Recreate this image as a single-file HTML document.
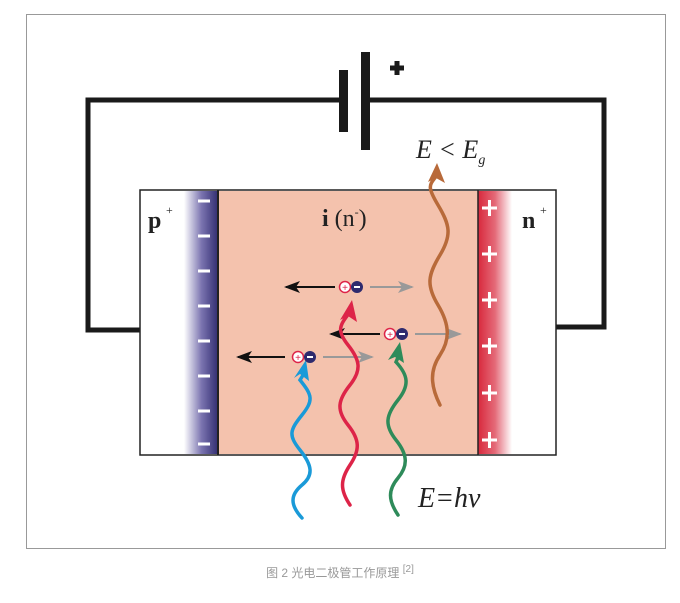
<!DOCTYPE html>
<html><head><meta charset="utf-8"><style>
body{margin:0;background:#fff;width:680px;height:598px;overflow:hidden;font-family:"Liberation Serif",serif}
</style></head><body>
<svg width="680" height="598" xmlns="http://www.w3.org/2000/svg">
<defs>
<linearGradient id="bl" x1="0" x2="1"><stop offset="0" stop-color="#fff"/><stop offset="0.5" stop-color="#7b74b0"/><stop offset="1" stop-color="#2e2a6e"/></linearGradient>
<linearGradient id="rd" x1="0" x2="1"><stop offset="0" stop-color="#d8283c"/><stop offset="0.5" stop-color="#e46a78"/><stop offset="1" stop-color="#fff"/></linearGradient>
<marker id="ak" markerWidth="8" markerHeight="6" refX="7" refY="3" orient="auto"><path d="M0,0 L8,3 L0,6 L2,3z" fill="#111"/></marker>
<marker id="ag" markerWidth="8" markerHeight="6" refX="7" refY="3" orient="auto"><path d="M0,0 L8,3 L0,6 L2,3z" fill="#999"/></marker>
</defs>
<rect x="26.5" y="14.5" width="639" height="534" fill="#fff" stroke="#999"/>
<g stroke="#1a1a1a" stroke-width="5" fill="none">
<path d="M340,100 H88 V330 H140"/>
<path d="M370,100 H604 V327 H556"/>
</g>
<rect x="339" y="70" width="9" height="62" fill="#1a1a1a"/>
<rect x="361" y="52" width="9" height="98" fill="#1a1a1a"/>
<path d="M390,68 h14 M397,61 v14" stroke="#1a1a1a" stroke-width="5"/>
<rect x="140" y="190" width="416" height="265" fill="#fff" stroke="#222" stroke-width="1.5"/>
<rect x="184" y="191" width="35" height="263" fill="url(#bl)"/>
<rect x="219" y="191" width="259" height="263" fill="#f4c2ad"/>
<rect x="478" y="191" width="34" height="263" fill="url(#rd)"/>
<line x1="218" y1="190" x2="218" y2="455" stroke="#222" stroke-width="2"/>
<line x1="478" y1="190" x2="478" y2="455" stroke="#222" stroke-width="1.5"/>
<g stroke="#fff" stroke-width="3">
<path d="M198,201h12M198,236h12M198,271h12M198,306h12M198,341h12M198,376h12M198,411h12M198,444h12"/>
<path d="M482,208h15M489.5,200v16M482,254h15M489.5,246v16M482,300h15M489.5,292v16M482,346h15M489.5,338v16M482,393h15M489.5,385v16M482,440h15M489.5,432v16"/>
</g>
<text x="148" y="228" font-size="24" font-weight="bold" fill="#222">p</text>
<text x="166" y="214" font-size="12" fill="#222">+</text>
<text x="522" y="228" font-size="24" font-weight="bold" fill="#222">n</text>
<text x="540" y="214" font-size="12" fill="#222">+</text>
<text x="322" y="226" font-size="24" fill="#222"><tspan font-weight="bold">i</tspan> (n<tspan font-size="12" dy="-10">-</tspan><tspan dy="10">)</tspan></text>
<text x="416" y="158" font-size="26" font-style="italic" fill="#222">E &lt; E<tspan font-size="14" dy="6">g</tspan></text>
<text x="418" y="507" font-size="28" font-style="italic" fill="#222">E=hν</text>
<g stroke-width="2" fill="none">
<line x1="335" y1="287" x2="286" y2="287" stroke="#111" marker-end="url(#ak)"/>
<line x1="370" y1="287" x2="412" y2="287" stroke="#999" marker-end="url(#ag)"/>
<line x1="380" y1="334" x2="331" y2="334" stroke="#111" marker-end="url(#ak)"/>
<line x1="415" y1="334" x2="460" y2="334" stroke="#999" marker-end="url(#ag)"/>
<line x1="285" y1="357" x2="238" y2="357" stroke="#111" marker-end="url(#ak)"/>
<line x1="323" y1="357" x2="372" y2="357" stroke="#999" marker-end="url(#ag)"/>
</g>
<g stroke-width="3.5" fill="none" stroke-linecap="round">
<path d="M302,518 C290,505 290,495 302,485 S312,465 300,450 S290,430 302,415 S312,395 300,380 L305,372" stroke="#1a9ad8"/>
<path d="M350,505 C340,490 340,480 350,465 S360,440 348,425 S338,400 350,385 S360,360 348,345 S340,325 350,312" stroke="#dd2448"/>
<path d="M398,515 C388,500 388,490 398,478 S408,455 396,440 S386,415 398,400 S408,375 396,362 L399,355" stroke="#2e8b5a"/>
<path d="M440,405 C430,385 430,370 440,355 S450,325 438,305 S428,275 440,255 S450,225 438,205 S430,185 437,175" stroke="#b86a3a"/>
</g>
<path d="M306,360 L294,378 L300,374 L309,381z" fill="#1a9ad8"/>
<path d="M352,300 L340,320 L348,316 L357,322z" fill="#dd2448"/>
<path d="M400,342 L388,360 L395,357 L404,363z" fill="#2e8b5a"/>
<path d="M437,163 L428,182 L436,178 L445,183z" fill="#b86a3a"/>
<g>
<circle cx="345" cy="287" r="5.5" fill="#fff" stroke="#dd2448" stroke-width="1.5"/><text x="345" y="291" font-size="10" text-anchor="middle" fill="#dd2448" font-family="Liberation Sans">+</text>
<circle cx="357" cy="287" r="6" fill="#2e2a6e"/><rect x="354" y="286" width="6" height="2" fill="#fff"/>
<circle cx="390" cy="334" r="5.5" fill="#fff" stroke="#dd2448" stroke-width="1.5"/><text x="390" y="338" font-size="10" text-anchor="middle" fill="#dd2448" font-family="Liberation Sans">+</text>
<circle cx="402" cy="334" r="6" fill="#2e2a6e"/><rect x="399" y="333" width="6" height="2" fill="#fff"/>
<circle cx="298" cy="357" r="5.5" fill="#fff" stroke="#dd2448" stroke-width="1.5"/><text x="298" y="361" font-size="10" text-anchor="middle" fill="#dd2448" font-family="Liberation Sans">+</text>
<circle cx="310" cy="357" r="6" fill="#2e2a6e"/><rect x="307" y="356" width="6" height="2" fill="#fff"/>
</g>
<text x="340" y="577" font-size="12" text-anchor="middle" fill="#999" font-family="Liberation Sans, Noto Sans CJK SC, sans-serif">图 2 光电二极管工作原理 <tspan font-size="10" dy="-5">[2]</tspan></text>
</svg>
</body></html>
